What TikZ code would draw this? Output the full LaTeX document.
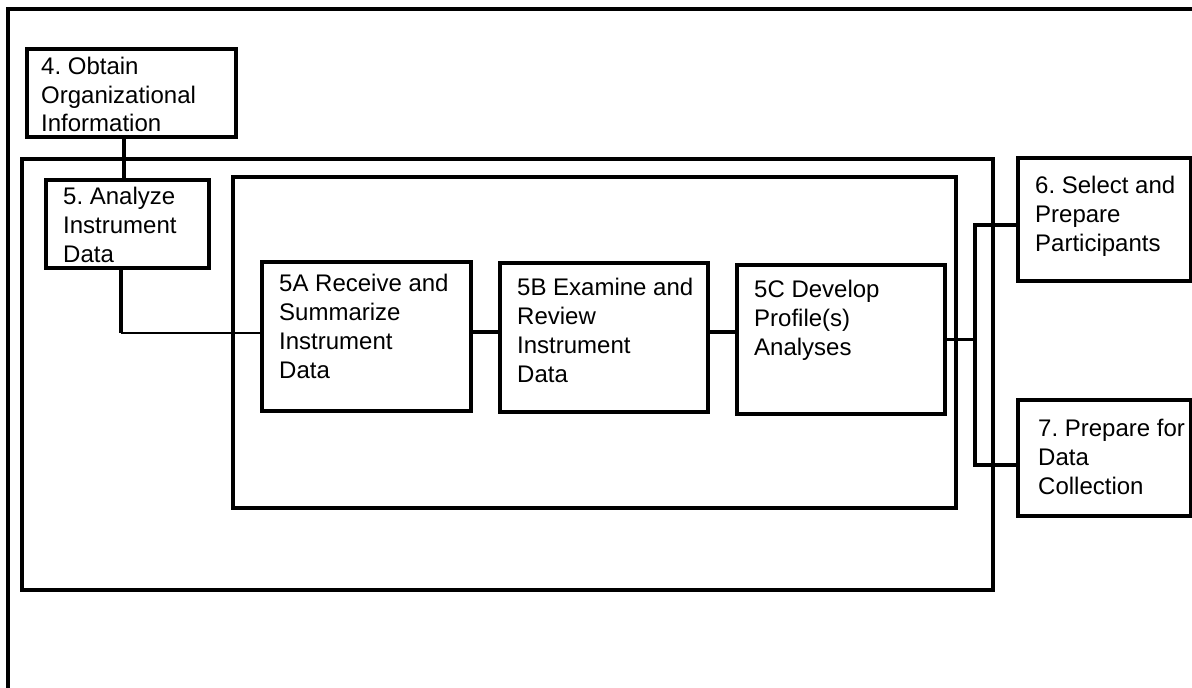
\documentclass[tikz,border=0pt]{standalone}
\usepackage{fontspec}
\setmainfont{Liberation Sans}
\usetikzlibrary{calc}
\frenchspacing
\begin{document}
\begin{tikzpicture}[x=1pt,y=-1pt,
  stepbox/.style={draw,line width=3.1pt,rectangle,inner sep=0pt,outer sep=0pt},
  frame/.style={draw,line width=3.1pt,rectangle,inner sep=0pt,outer sep=0pt},
  link/.style={line width=3.1pt},
  thinlink/.style={line width=1.7pt},
  boxtext/.style={anchor=base west,inner sep=0pt,font=\fontsize{24}{29}\selectfont}
]
\useasboundingbox (0,0) rectangle (1192,688);
\fill[white] (0,0) rectangle (1192,688);

% page frame, open at the right and bottom
\draw[line width=3.1pt] (8,688) -- (8,9) -- (1192,9);

% containers
\node[frame,minimum width=971pt,minimum height=431pt] (c5) at (507.5,374.5) {};
\node[frame,minimum width=723pt,minimum height=331pt] (c5in) at (594.5,342.5) {};

% process boxes
\node[stepbox,minimum width=209pt,minimum height=88pt] (b4) at (131.5,93) {};
\node[stepbox,minimum width=163pt,minimum height=88pt] (b5) at (127.5,224) {};
\node[stepbox,minimum width=209pt,minimum height=149pt] (b5A) at (366.5,336.5) {};
\node[stepbox,minimum width=208pt,minimum height=149pt] (b5B) at (604,337.5) {};
\node[stepbox,minimum width=208pt,minimum height=149pt] (b5C) at (841,339.5) {};
\node[stepbox,minimum width=173pt,minimum height=123pt] (b6) at (1104.5,219.5) {};
\node[stepbox,minimum width=173pt,minimum height=116pt] (b7) at (1104.5,458) {};

% box labels
\node[boxtext] (t4) at ($(b4.north west)+(14,25)$) {\parbox[t]{300pt}{4. Obtain\\Organizational\\Information}};
\node[boxtext] (t5) at ($(b5.north west)+(17,24)$) {\parbox[t]{300pt}{5. Analyze\\Instrument\\Data}};
\node[boxtext] (t5A) at ($(b5A.north west)+(17,29)$) {\parbox[t]{300pt}{5A Receive and\\Summarize\\Instrument\\Data}};
\node[boxtext] (t5B) at ($(b5B.north west)+(17,32)$) {\parbox[t]{300pt}{5B Examine and\\Review\\Instrument\\Data}};
\node[boxtext] (t5C) at ($(b5C.north west)+(17,32)$) {\parbox[t]{300pt}{5C Develop\\Profile(s)\\Analyses}};
\node[boxtext] (t6) at ($(b6.north west)+(17,35)$) {\parbox[t]{300pt}{6. Select and\\Prepare\\Participants}};
\node[boxtext] (t7) at ($(b7.north west)+(20,36)$) {\parbox[t]{300pt}{7. Prepare for\\Data\\Collection}};

% connectors
\draw[link] ([xshift=-7.5pt]b4.south) coordinate (k4) -- (k4 |- b5.north);
\draw[link] ([xshift=-6.5pt]b5.south) -- ++(0,65) coordinate (k5);
\draw[thinlink] (k5) -- (k5 -| b5A.west);
\draw[link] ([yshift=4.5pt]b5A.east) coordinate (kA) -- (kA -| b5B.west);
\draw[link] ([yshift=5.5pt]b5B.east) coordinate (kB) -- (kB -| b5C.west);
\coordinate (j6) at (975,225);
\coordinate (j7) at (975,465);
\draw[link] (b5C.east) -- (b5C.east -| j6);
\draw[link] (b6.west |- j6) -- (j6) -- (j7) -- (b7.west |- j7);
\end{tikzpicture}
\end{document}
